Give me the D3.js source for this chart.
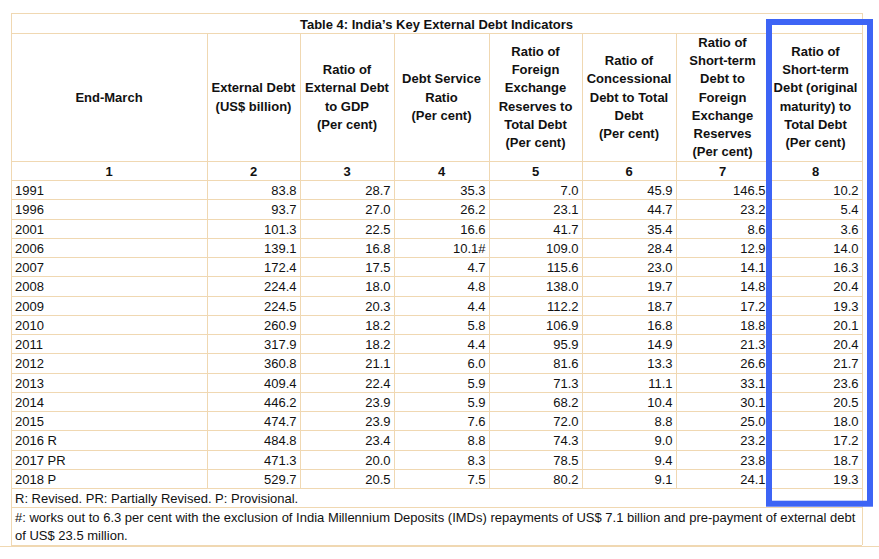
<!DOCTYPE html>
<html><head><meta charset="utf-8">
<script src="https://cdn.jsdelivr.net/npm/d3@7"></script>
<style>
html,body{margin:0;padding:0;background:#fff;}
svg{display:block;font-family:"Liberation Sans",Arial,sans-serif;}
</style></head>
<body>
<script>
// ---- data ----
const title = "Table 4: India\u2019s Key External Debt Indicators";
const headers = [
  ["End-March"],
  ["External Debt","(US$ billion)"],
  ["Ratio of","External Debt","to GDP","(Per cent)"],
  ["Debt Service","Ratio","(Per cent)"],
  ["Ratio of","Foreign","Exchange","Reserves to","Total Debt","(Per cent)"],
  ["Ratio of","Concessional","Debt to Total","Debt","(Per cent)"],
  ["Ratio of","Short-term","Debt to","Foreign","Exchange","Reserves","(Per cent)"],
  ["Ratio of","Short-term","Debt (original","maturity) to","Total Debt","(Per cent)"]
];
const colNumbers = ["1","2","3","4","5","6","7","8"];
const years = ["1991","1996","2001","2006","2007","2008","2009","2010","2011","2012","2013","2014","2015","2016 R","2017 PR","2018 P"];
const externalDebt = ["83.8","93.7","101.3","139.1","172.4","224.4","224.5","260.9","317.9","360.8","409.4","446.2","474.7","484.8","471.3","529.7"];
const debtToGDP = ["28.7","27.0","22.5","16.8","17.5","18.0","20.3","18.2","18.2","21.1","22.4","23.9","23.9","23.4","20.0","20.5"];
const debtServiceRatio = ["35.3","26.2","16.6","10.1#","4.7","4.8","4.4","5.8","4.4","6.0","5.9","5.9","7.6","8.8","8.3","7.5"];
const reservesToDebt = ["7.0","23.1","41.7","109.0","115.6","138.0","112.2","106.9","95.9","81.6","71.3","68.2","72.0","74.3","78.5","80.2"];
const concessionalToDebt = ["45.9","44.7","35.4","28.4","23.0","19.7","18.7","16.8","14.9","13.3","11.1","10.4","8.8","9.0","9.4","9.1"];
const shortTermToReserves = ["146.5","23.2","8.6","12.9","14.1","14.8","17.2","18.8","21.3","26.6","33.1","30.1","25.0","23.2","23.8","24.1"];
const shortTermToDebt = ["10.2","5.4","3.6","14.0","16.3","20.4","19.3","20.1","20.4","21.7","23.6","20.5","18.0","17.2","18.7","19.3"];
const footnote1 = "R: Revised. PR: Partially Revised. P: Provisional.";
const footnote2 = ["#: works out to 6.3 per cent with the exclusion of India Millennium Deposits (IMDs) repayments of US$ 7.1 billion and pre-payment of external debt","of US$ 23.5 million."];
const highlightColumn = 7;

// ---- layout ----
const W = 879, H = 559;
const colEdges = [11, 207, 300, 394, 489, 582, 676, 769, 862];
const yTitle = [13, 33], yHead = [33, 161], yNum = [161, 180], yData = [180, 488], yFn1 = [488, 507], yFn2 = [507, 545];
const border = "#f0d8b2";
const ink = "#111";
const lineH = 18.2;

const svg = d3.select("body").append("svg").attr("width", W).attr("height", H);

const columns = [years, externalDebt, debtToGDP, debtServiceRatio, reservesToDebt, concessionalToDebt, shortTermToReserves, shortTermToDebt];
const y = d3.scaleBand().domain(years).range(yData);
const colIdx = d3.range(colNumbers.length);
const x0 = i => colEdges[i], x1 = i => colEdges[i + 1];

const g = svg.append("g");
const hline = (yy, xa, xb) => g.append("line").attr("x1", xa).attr("x2", xb).attr("y1", Math.round(yy) + 0.5).attr("y2", Math.round(yy) + 0.5).attr("stroke", border).attr("stroke-width", 1);
const vline = (xx, ya, yb) => g.append("line").attr("x1", Math.round(xx) + 0.5).attr("x2", Math.round(xx) + 0.5).attr("y1", ya).attr("y2", yb).attr("stroke", border).attr("stroke-width", 1);

// horizontal lines
const L = colEdges[0], R = colEdges[colEdges.length - 1];
[yTitle[0], yHead[0], yNum[0], yData[0]].forEach(v => hline(v, L, R));
years.forEach(d => hline(y(d) + y.bandwidth(), L, R));
hline(yFn1[1], L, R);
hline(yFn2[1], L, R);
hline(yFn2[1] + 1, 0, W);
// vertical lines
vline(L, yTitle[0], yFn2[1]);
vline(R, yTitle[0], yFn2[1]);
colEdges.slice(1, -1).forEach(v => vline(v, yHead[0], yData[1]));

// title
svg.append("text").attr("x", (L + R) / 2).attr("y", (yTitle[0] + yTitle[1]) / 2 + 1)
  .attr("text-anchor", "middle").attr("dominant-baseline", "central")
  .attr("font-size", 13).attr("font-weight", "bold").attr("fill", ink).text(title);

// headers
const hc = (yHead[0] + yHead[1]) / 2;
colIdx.forEach(i => {
  const lines = headers[i];
  const t = svg.append("text").attr("text-anchor", "middle").attr("font-size", 13).attr("font-weight", "bold").attr("fill", ink);
  lines.forEach((ln, k) => {
    t.append("tspan").attr("x", (x0(i) + x1(i)) / 2)
      .attr("y", hc + (k - (lines.length - 1) / 2) * lineH)
      .attr("dominant-baseline", "central").text(ln);
  });
});

// column numbers
svg.selectAll("text.num").data(colNumbers).join("text").attr("class", "num")
  .attr("x", (d, i) => (x0(i) + x1(i)) / 2).attr("y", (yNum[0] + yNum[1]) / 2 + 1)
  .attr("text-anchor", "middle").attr("dominant-baseline", "central")
  .attr("font-size", 13).attr("font-weight", "bold").attr("fill", ink).text(d => d);

// data cells
colIdx.forEach(i => {
  svg.append("g").selectAll("text").data(columns[i]).join("text")
    .attr("x", i === 0 ? x0(i) + 4 : x1(i) - 3.5)
    .attr("y", (d, r) => y(years[r]) + y.bandwidth() / 2 + 1)
    .attr("text-anchor", i === 0 ? "start" : "end").attr("dominant-baseline", "central")
    .attr("font-size", 13).attr("fill", ink).text(d => d);
});

// footnotes
svg.append("text").attr("x", L + 4).attr("y", (yFn1[0] + yFn1[1]) / 2 + 1).attr("dominant-baseline", "central")
  .attr("font-size", 13).attr("fill", ink).text(footnote1);
footnote2.forEach((ln, k) => {
  svg.append("text").attr("x", L + 4).attr("y", yFn2[0] + 10 + k * 18.2).attr("dominant-baseline", "central")
    .attr("font-size", 13).attr("fill", ink).text(ln);
});

// highlight rectangle
svg.append("rect").attr("x", x1(highlightColumn - 1)).attr("y", 22)
  .attr("width", 870 - x1(highlightColumn - 1)).attr("height", 503.7 - 22)
  .attr("fill", "none").attr("stroke", "#3d64f5").attr("stroke-width", 6);
</script>
</body></html>
